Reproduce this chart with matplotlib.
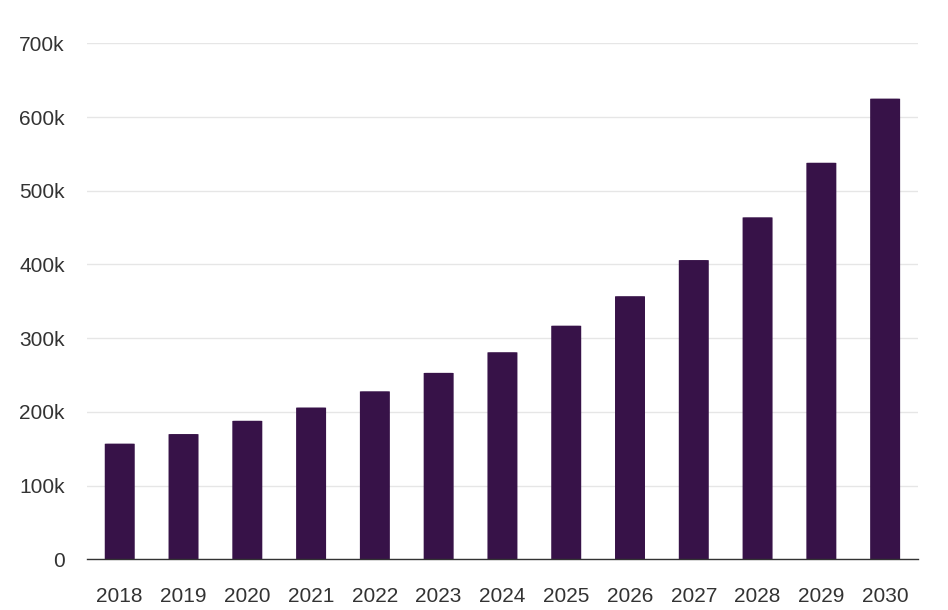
import matplotlib.pyplot as plt
from matplotlib.ticker import FuncFormatter
from matplotlib.patches import FancyBboxPatch

plt.rcParams['font.family'] = ['Liberation Sans', 'DejaVu Sans']

years = ['2018', '2019', '2020', '2021', '2022', '2023', '2024',
         '2025', '2026', '2027', '2028', '2029', '2030']
values = [157000, 170000, 188000, 206000, 228000, 253000, 281000,
          317000, 357000, 406000, 464000, 538000, 625000]

fig = plt.figure(figsize=(9.48, 6.1), dpi=100)
ax = fig.add_axes([0.092, 0.083, 0.876, 0.846])

x = range(len(years))
bars = ax.bar(x, values, width=0.47, color='#371248', zorder=3)

# swap each bar for one with slightly rounded corners
for b in bars:
    b.set_visible(False)
    rb = FancyBboxPatch((b.get_x(), 0), b.get_width(), b.get_height(),
                        boxstyle='round,pad=0,rounding_size=0.05',
                        mutation_aspect=6000, color='#371248', zorder=3, linewidth=0)
    ax.add_patch(rb)

ax.set_xlim(-0.51, len(years) - 0.49)
ax.set_ylim(0, 700000)
ax.set_yticks(range(0, 700001, 100000))
ax.yaxis.set_major_formatter(FuncFormatter(lambda v, p: '0' if v == 0 else f'{int(v / 1000)}k'))
ax.set_xticks(list(x))
ax.set_xticklabels(years)

ax.grid(axis='y', color='#e6e6e6', linewidth=1, zorder=0)
for side in ['top', 'right', 'left']:
    ax.spines[side].set_visible(False)
ax.spines['bottom'].set_color('#333333')
ax.spines['bottom'].set_linewidth(1)
ax.spines['bottom'].set_zorder(4)

ax.tick_params(axis='both', length=0, labelsize=15, labelcolor='#333333')
ax.tick_params(axis='x', pad=20)
ax.tick_params(axis='y', pad=16)

plt.savefig('out.png', dpi=100)
